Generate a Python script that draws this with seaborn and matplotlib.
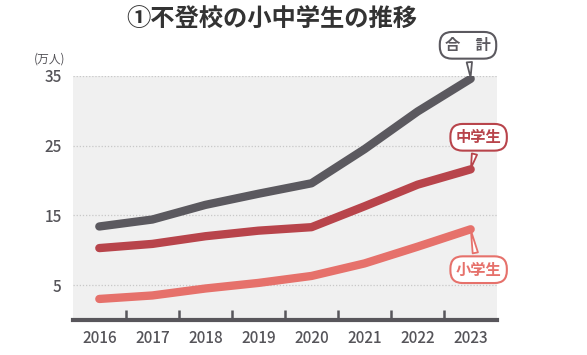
import matplotlib
matplotlib.use("Agg")
import matplotlib.pyplot as plt
import seaborn as sns
import pandas as pd

years = [2016, 2017, 2018, 2019, 2020, 2021, 2022, 2023]
total = [13.4, 14.4, 16.5, 18.1, 19.6, 24.5, 29.9, 34.6]
junior = [10.3, 10.9, 12.0, 12.8, 13.3, 16.3, 19.4, 21.6]
elementary = [3.0, 3.5, 4.5, 5.3, 6.3, 8.1, 10.5, 13.0]
series_names = ["合　計", "中学生", "小学生"]
yticks = [5, 15, 25, 35]

colors = {"合　計": "#5b595f", "中学生": "#b8444b", "小学生": "#e6716b"}

df = pd.DataFrame({
    "year": years * 3,
    "value": total + junior + elementary,
    "series": [series_names[0]] * 8 + [series_names[1]] * 8 + [series_names[2]] * 8,
})

sns.set_theme(style="white")
plt.rcParams["font.family"] = ["Noto Sans CJK JP", "DejaVu Sans"]

fig = plt.figure(figsize=(5.87, 3.55), dpi=100)
ax = fig.add_axes([0.124, 0.099, 0.723, 0.687])
ax.set_facecolor("#f0f0f0")

sns.lineplot(data=df, x="year", y="value", hue="series", palette=colors,
             linewidth=6, legend=False, ax=ax, sort=False,
             solid_capstyle="round", solid_joinstyle="round", zorder=3)

ax.set_xlim(2015.5, 2023.5)
ax.set_ylim(0, 35)
ax.set_xticks(years)
ax.set_xticklabels([str(y) for y in years])
ax.set_xticks([y + 0.5 for y in years[:-1]], minor=True)
ax.set_yticks(yticks)
ax.set_yticklabels([str(v) for v in yticks])
ax.set_xlabel("")
ax.set_ylabel("")
for v in yticks:
    ax.axhline(v, color="#c8c8c8", linestyle=(0, (1, 1.5)), linewidth=0.9, zorder=1)

for s in ["left", "right", "top"]:
    ax.spines[s].set_visible(False)
ax.spines["bottom"].set_color("#58565b")
ax.spines["bottom"].set_linewidth(3)
ax.tick_params(axis="x", which="major", length=0, pad=7, labelsize=11, colors="#555459")
ax.tick_params(axis="x", which="minor", direction="in", length=7, width=1.8, color="#58565b", bottom=True)
ax.tick_params(axis="y", length=0, pad=8, labelsize=11, colors="#555459")
for lbl in ax.get_xticklabels() + ax.get_yticklabels():
    lbl.set_fontweight("medium")

fig.text(0.085, 0.835, "(万人)", fontsize=8.5, color="#555459", ha="center", va="center")
fig.text(0.463, 0.945, "①不登校の小中学生の推移", fontsize=17.5, fontweight="bold",
         color="#333333", ha="center", va="center")

def callout(label, xy, xytext, color):
    ax.annotate(label, xy=xy, xytext=xytext, textcoords="data",
                fontsize=11, fontweight="bold", color=color, ha="center", va="center",
                bbox=dict(boxstyle="round,pad=0.35,rounding_size=0.8", fc="white", ec=color, lw=1.5),
                arrowprops=dict(arrowstyle="wedge,tail_width=0.35", fc="white", ec=color, lw=1.3,
                                shrinkB=1),
                annotation_clip=False, zorder=5)

callout(series_names[0], (2023, total[-1]), (2022.95, 39.4), colors["合　計"])
callout(series_names[1], (2023, junior[-1]), (2023.15, 26.2), colors["中学生"])
callout(series_names[2], (2023, elementary[-1]), (2023.15, 7.2), colors["小学生"])

fig.savefig("out.png", dpi=100, facecolor="white")
